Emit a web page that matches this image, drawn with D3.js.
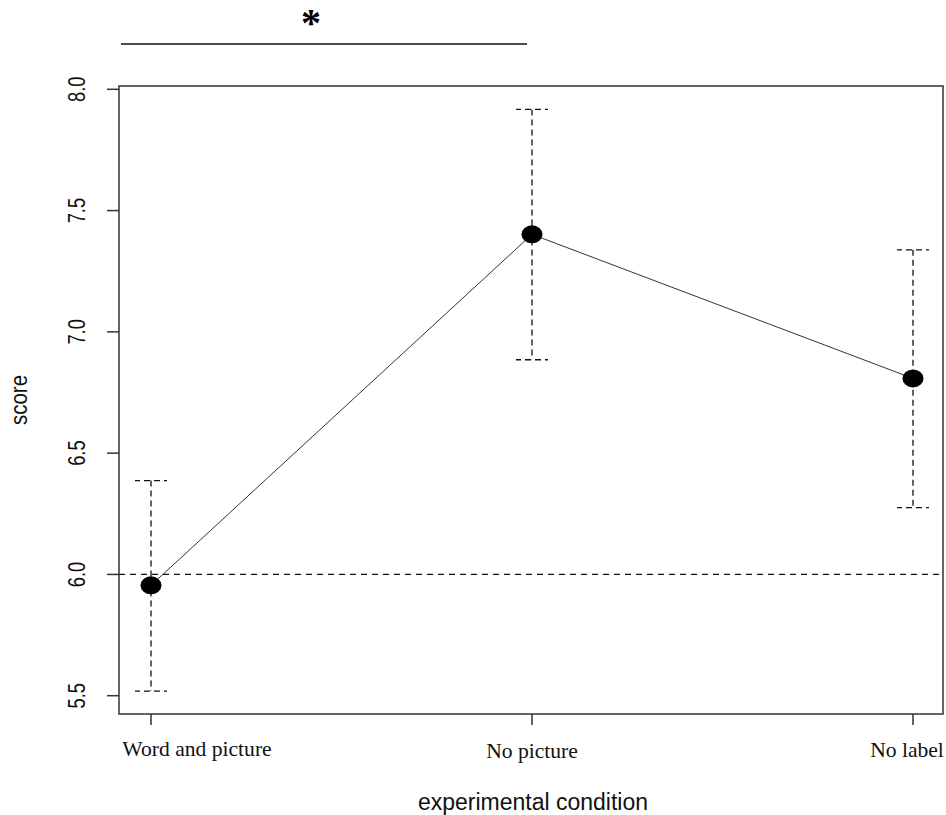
<!DOCTYPE html>
<html>
<head>
<meta charset="utf-8">
<script src="https://cdn.jsdelivr.net/npm/d3@7"></script>
<style>
  body { margin: 0; background: #fff; }
  svg { display: block; }
</style>
</head>
<body>
<div id="chart"></div>
<script>
// Data
const conditions = ['Word and picture', 'No picture', 'No label'];
const means = [5.955, 7.402, 6.808];
const upper = [6.387, 7.917, 7.338];
const lower = [5.519, 6.885, 6.275];
const yTicks = [5.5, 6.0, 6.5, 7.0, 7.5, 8.0];
const refLine = 6.0;
const sigPair = ['Word and picture', 'No picture'];

const width = 946, height = 815;
const box = { left: 119, top: 86, right: 943, bottom: 714 };

const svg = d3.select('#chart').append('svg')
    .attr('width', width)
    .attr('height', height);

// Scales
const x = d3.scalePoint()
    .domain(conditions)
    .range([151, 913]);

const y = d3.scaleLinear()
    .domain([5.5, 8.0])
    .range([695.7, 89.3]);

const ink = '#111';

// Reference line at 6.0
svg.append('line')
    .attr('x1', box.left).attr('x2', box.right)
    .attr('y1', y(refLine)).attr('y2', y(refLine))
    .attr('stroke', ink)
    .attr('stroke-width', 1.3)
    .attr('stroke-dasharray', '6,5');

// Error bars
const bars = svg.append('g');
conditions.forEach((c, i) => {
    const cx = x(c);
    bars.append('line')
        .attr('x1', cx).attr('x2', cx)
        .attr('y1', y(upper[i])).attr('y2', y(lower[i]))
        .attr('stroke', ink).attr('stroke-width', 1.3)
        .attr('stroke-dasharray', '6,4');
    [upper[i], lower[i]].forEach(v => {
        bars.append('line')
            .attr('x1', cx - 16).attr('x2', cx + 16)
            .attr('y1', y(v)).attr('y2', y(v))
            .attr('stroke', ink).attr('stroke-width', 1.3)
            .attr('stroke-dasharray', '6,4')
            .attr('stroke-dashoffset', 1);
    });
});

// Connecting line
const line = d3.line()
    .x((d, i) => x(conditions[i]))
    .y(d => y(d));

svg.append('path')
    .datum(means)
    .attr('d', line)
    .attr('fill', 'none')
    .attr('stroke', '#333')
    .attr('stroke-width', 1);

// Points
svg.append('g').selectAll('ellipse')
    .data(means)
    .enter()
    .append('ellipse')
    .attr('cx', (d, i) => x(conditions[i]))
    .attr('cy', d => y(d))
    .attr('rx', 10.5)
    .attr('ry', 9)
    .attr('fill', '#000');

// Plot box
svg.append('rect')
    .attr('x', box.left).attr('y', box.top)
    .attr('width', box.right - box.left)
    .attr('height', box.bottom - box.top)
    .attr('fill', 'none')
    .attr('stroke', '#333')
    .attr('stroke-width', 1.5);

// Y axis ticks and labels (rotated, R style)
const yAxis = svg.append('g');
yTicks.forEach(t => {
    yAxis.append('line')
        .attr('x1', 107).attr('x2', box.left)
        .attr('y1', y(t)).attr('y2', y(t))
        .attr('stroke', '#333').attr('stroke-width', 1.5);
    yAxis.append('text')
        .attr('transform', `translate(85,${y(t)}) rotate(-90) scale(0.78,1)`)
        .attr('text-anchor', 'middle')
        .attr('font-family', 'Liberation Sans, Arial, sans-serif')
        .attr('font-size', 23.5)
        .attr('fill', '#111')
        .text(t.toFixed(1));
});

// X axis ticks and labels
const labelShift = [46, 0, -6];
const labelBase = [756, 758, 757];
const xAxis = svg.append('g');
conditions.forEach((c, i) => {
    xAxis.append('line')
        .attr('x1', x(c)).attr('x2', x(c))
        .attr('y1', box.bottom).attr('y2', 725)
        .attr('stroke', '#333').attr('stroke-width', 1.5);
    xAxis.append('text')
        .attr('transform', `translate(${x(c) + labelShift[i]},${labelBase[i]}) scale(1.08,1)`)
        .attr('text-anchor', 'middle')
        .attr('font-family', 'Liberation Serif, Times New Roman, serif')
        .attr('font-size', 20)
        .attr('fill', '#111')
        .text(c);
});

// Axis titles
svg.append('text')
    .attr('x', 533).attr('y', 810)
    .attr('text-anchor', 'middle')
    .attr('font-family', 'Liberation Sans, Arial, sans-serif')
    .attr('font-size', 23)
    .attr('fill', '#111')
    .text('experimental condition');

svg.append('text')
    .attr('transform', 'translate(27,400) rotate(-90) scale(0.89,1)')
    .attr('text-anchor', 'middle')
    .attr('font-family', 'Liberation Sans, Arial, sans-serif')
    .attr('font-size', 23)
    .attr('fill', '#111')
    .text('score');

// Significance bracket
svg.append('line')
    .attr('x1', box.left + 2).attr('x2', x(sigPair[1]) - 5)
    .attr('y1', 44).attr('y2', 44)
    .attr('stroke', '#111')
    .attr('stroke-width', 1.5);

svg.append('text')
    .attr('x', 311).attr('y', 36)
    .attr('text-anchor', 'middle')
    .attr('font-family', 'Liberation Serif, Times New Roman, serif')
    .attr('font-weight', 'bold')
    .attr('font-size', 40)
    .attr('fill', '#000')
    .text('*');
</script>
</body>
</html>
